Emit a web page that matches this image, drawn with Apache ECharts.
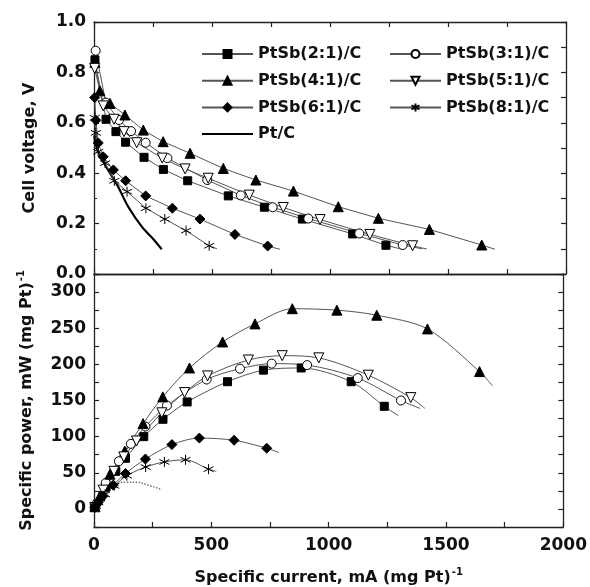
<!DOCTYPE html>
<html lang="en">
<head>
  <meta charset="UTF-8">
  <script src="https://cdn.jsdelivr.net/npm/echarts@6/dist/echarts.min.js"></script>
</head>
<body style="margin:0;background:#fff;">
<div id="main" style="width:590px;height:587px;"></div>

<script>
  // current, mA (mg Pt)^-1 ; voltage, V ; power, mW (mg Pt)^-1
  var cur21 = [4, 51, 93, 134, 212, 294, 397, 569, 722, 883, 1096, 1237, 1297];
  var volt21 = [0.85, 0.614, 0.565, 0.523, 0.463, 0.415, 0.370, 0.310, 0.265, 0.218, 0.159, 0.114, 0.100];
  var pow21 = [3, 30, 52, 70, 100, 124, 148, 176, 192, 195, 176, 142, 129];

  var cur31 = [7, 50, 106, 157, 219, 311, 480, 622, 757, 908, 1124, 1308, 1390];
  var volt31 = [0.886, 0.68, 0.611, 0.567, 0.521, 0.46, 0.373, 0.312, 0.265, 0.22, 0.161, 0.115, 0.1];
  var pow31 = [6, 36, 66, 90, 114, 143, 179, 194, 201, 199, 181, 150, 139];

  var cur41 = [4, 25, 68, 131, 209, 293, 407, 548, 686, 845, 1035, 1205, 1421, 1643, 1699];
  var volt41 = [0.84, 0.727, 0.677, 0.631, 0.571, 0.525, 0.479, 0.419, 0.373, 0.329, 0.267, 0.221, 0.177, 0.115, 0.098];
  var pow41 = [3, 18, 48, 80, 118, 155, 195, 231, 256, 277, 275, 268, 249, 190, 170];

  var cur51 = [3, 39, 85, 127, 181, 289, 386, 484, 658, 802, 958, 1169, 1350, 1410];
  var volt51 = [0.816, 0.667, 0.614, 0.565, 0.521, 0.46, 0.417, 0.38, 0.313, 0.264, 0.216, 0.157, 0.112, 0.099];
  var pow51 = [2, 26, 52, 72, 94, 133, 161, 184, 206, 212, 209, 185, 154, 139];

  var cur61 = [3, 8, 18, 39, 82, 134, 219, 332, 449, 597, 736, 788];
  var volt61 = [0.70, 0.61, 0.52, 0.465, 0.413, 0.37, 0.31, 0.261, 0.218, 0.157, 0.111, 0.098];
  var pow61 = [2, 5, 9, 18, 33, 49, 69, 89, 98, 95, 84, 78];

  var cur81 = [3, 8, 18, 47, 86, 140, 220, 300, 390, 488, 521];
  var volt81 = [0.62, 0.56, 0.485, 0.44, 0.37, 0.327, 0.261, 0.218, 0.172, 0.112, 0.1];
  var pow81 = [2, 4, 9, 20, 32, 46, 58, 65, 68, 55, 52];

  var curPtV = [2, 5, 25, 68, 100, 145, 205, 250, 287];
  var voltPt = [0.55, 0.52, 0.47, 0.40, 0.35, 0.267, 0.185, 0.14, 0.098];
  var curPtP = [0, 10, 25, 50, 96, 140, 181, 230, 287];
  var powPt = [0, 7, 15, 25, 35, 37, 37, 33, 27];

  var names = ['PtSb(2:1)/C', 'PtSb(3:1)/C', 'PtSb(4:1)/C', 'PtSb(5:1)/C', 'PtSb(6:1)/C', 'PtSb(8:1)/C', 'Pt/C'];

  var font = 'DejaVu Sans';
  var star = 'path://M5,0L5,10M0.7,2.5L9.3,7.5M0.7,7.5L9.3,2.5';

  // last point of each run has no marker
  function pts(xs, ys) {
    var out = [];
    for (var i = 0; i < xs.length; i++) {
      if (i == xs.length - 1) out.push({value: [xs[i], ys[i]], symbol: 'none'});
      else out.push([xs[i], ys[i]]);
    }
    return out;
  }

  var marks = {
    'PtSb(2:1)/C': {symbol: 'rect', size: 8, fill: '#000'},
    'PtSb(3:1)/C': {symbol: 'circle', size: 9, fill: '#fff'},
    'PtSb(4:1)/C': {symbol: 'triangle', size: 10, fill: '#000'},
    'PtSb(5:1)/C': {symbol: 'triangle', size: 10, fill: '#fff', rotate: 180},
    'PtSb(6:1)/C': {symbol: 'diamond', size: 10, fill: '#000'},
    'PtSb(8:1)/C': {symbol: star, size: 10, fill: '#000'}
  };

  function mk(name, data, xi, smooth) {
    var m = marks[name];
    return {
      name: name, type: 'line', xAxisIndex: xi, yAxisIndex: xi,
      data: data, smooth: smooth,
      symbol: m.symbol, symbolSize: m.size, symbolRotate: m.rotate || 0,
      showAllSymbol: true,
      itemStyle: {color: m.fill, borderColor: '#000', borderWidth: 1},
      lineStyle: {color: '#555', width: 1},
      z: 3
    };
  }

  function ax(grid, pos, min, max, iv, o) {
    var a = {
      type: 'value', gridIndex: grid, position: pos, min: min, max: max, interval: iv,
      axisLine: {show: true, onZero: false, lineStyle: {color: '#222', width: 1.3}},
      axisTick: {show: true, inside: true, length: 5, lineStyle: {color: '#222', width: 1.2}},
      axisLabel: {show: false},
      splitLine: {show: false}
    };
    for (var k in o) a[k] = o[k];
    return a;
  }

  var nameStyle = {fontFamily: font, fontWeight: 'bold', fontSize: 16, color: '#111'};
  var legText = {fontFamily: font, fontWeight: 'bold', fontSize: 16, lineHeight: 16, color: '#111'};

  var chart = echarts.init(document.getElementById('main'));
  chart.setOption({
    animation: false,
    backgroundColor: '#fff',
    grid: [
      {left: 94, right: 24, top: 22, height: 252},
      {left: 94, right: 24, top: 274, height: 253}
    ],
    legend: [{
      data: ['PtSb(2:1)/C', 'PtSb(4:1)/C', 'PtSb(6:1)/C', 'Pt/C'],
      orient: 'vertical', left: 196, top: 41, itemWidth: 51, itemHeight: 10, itemGap: 10.7,
      textStyle: legText
    }, {
      data: ['PtSb(3:1)/C', 'PtSb(5:1)/C', 'PtSb(8:1)/C'],
      orient: 'vertical', left: 384, top: 41, itemWidth: 51, itemHeight: 10, itemGap: 10.7,
      textStyle: legText
    }],
    xAxis: [
      ax(0, 'bottom', 0, 2000, 250, {}),
      ax(0, 'top', 0, 2000, 250, {}),
      ax(1, 'bottom', 0, 2000, 250, {
        axisLabel: {show: true, margin: 10, formatter: function (v) { return v % 500 == 0 ? v : ''; }, fontFamily: font, fontWeight: 'bold', fontSize: 17, color: '#111'},
        name: '{a|Specific current, mA (mg Pt)}{s|-1}', nameLocation: 'middle', nameGap: 40,
        nameTextStyle: {rich: {a: nameStyle, s: {fontFamily: font, fontWeight: 'bold', fontSize: 10, color: '#111', padding: [0, 0, 12, 1]}}}
      }),
      ax(1, 'top', 0, 2000, 250, {axisTick: {show: false}})
    ],
    yAxis: [
      ax(0, 'left', 0, 1, 0.2, {
        minorTick: {show: true, splitNumber: 2, length: 3, lineStyle: {color: '#222'}},
        axisLabel: {show: true, margin: 8, formatter: function (v) { return v.toFixed(1); }, fontFamily: font, fontWeight: 'bold', fontSize: 17, color: '#111'},
        name: 'Cell voltage, V', nameLocation: 'middle', nameGap: 56, nameTextStyle: nameStyle
      }),
      ax(0, 'right', 0, 1, 0.1, {}),
      ax(1, 'left', -25, 325, 25, {
        axisLabel: {show: true, margin: 8, formatter: function (v) { return v % 50 == 0 && v <= 300 ? v : ''; }, fontFamily: font, fontWeight: 'bold', fontSize: 17, color: '#111'},
        name: '{a|Specific power, mW (mg Pt)}{s|-1}', nameLocation: 'middle', nameGap: 56,
        nameTextStyle: {rich: {a: nameStyle, s: {fontFamily: font, fontWeight: 'bold', fontSize: 10, color: '#111', padding: [0, 0, 12, 1]}}}
      }),
      ax(1, 'right', -25, 325, 25, {})
    ],
    series: [
      {
        name: 'Pt/C', type: 'line', xAxisIndex: 0, yAxisIndex: 0, symbol: 'none', smooth: 0.3,
        data: pts(curPtV, voltPt), itemStyle: {color: 'rgba(0,0,0,0)'}, lineStyle: {color: '#000', width: 2.2}, z: 2
      },
      {
        name: 'Pt/C', type: 'line', xAxisIndex: 2, yAxisIndex: 2, symbol: 'none', smooth: 0.4,
        data: pts(curPtP, powPt), itemStyle: {color: 'rgba(0,0,0,0)'}, lineStyle: {color: '#777', width: 1.5, type: 'dotted'}, z: 2
      },
      mk(names[0], pts(cur21, volt21), 0, false),
      mk(names[1], pts(cur31, volt31), 0, false),
      mk(names[2], pts(cur41, volt41), 0, false),
      mk(names[3], pts(cur51, volt51), 0, false),
      mk(names[4], pts(cur61, volt61), 0, false),
      mk(names[5], pts(cur81, volt81), 0, false),
      mk(names[0], pts(cur21, pow21), 2, 0.3),
      mk(names[1], pts(cur31, pow31), 2, 0.3),
      mk(names[2], pts(cur41, pow41), 2, 0.3),
      mk(names[3], pts(cur51, pow51), 2, 0.3),
      mk(names[4], pts(cur61, pow61), 2, 0.3),
      mk(names[5], pts(cur81, pow81), 2, 0.3)
    ]
  });
</script>
</body>
</html>
